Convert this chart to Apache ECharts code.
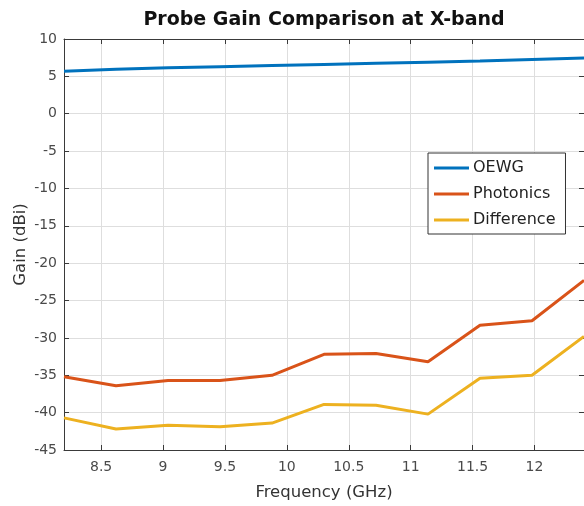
<!DOCTYPE html>
<html>
<head>
<meta charset="utf-8">
<script src="https://cdn.jsdelivr.net/npm/echarts@6/dist/echarts.min.js"></script>
<style>
  html, body { margin: 0; padding: 0; background: #fff; }
  #chart { width: 584px; height: 506px; }
</style>
</head>
<body>
<div id="chart"></div>
<script>
// frequency points (GHz)
const freq = [8.2, 8.62, 9.04, 9.46, 9.88, 10.3, 10.72, 11.14, 11.56, 11.98, 12.4];
// gains (dBi)
const oewg = [5.7, 5.95, 6.15, 6.3, 6.45, 6.6, 6.75, 6.9, 7.05, 7.25, 7.45];
const photonics = [-35.2, -36.4, -35.7, -35.7, -35.0, -32.2, -32.1, -33.2, -28.3, -27.7, -22.3];
const difference = [-40.7, -42.2, -41.7, -41.9, -41.4, -38.9, -39.0, -40.2, -35.4, -35.0, -29.8];

const seriesNames = ["OEWG", "Photonics", "Difference"];
const seriesValues = [oewg, photonics, difference];
const colors = ["#0072BD", "#D95319", "#EDB120"];

const FONT = "DejaVu Sans";
const axisColor = "#3a3a3a";
const labelColor = "#4a4a4a";
const gridColor = "#dedede";

const chart = echarts.init(document.getElementById("chart"), null, { renderer: "canvas" });

const pairs = (ys) => freq.map((f, i) => [f, ys[i]]);

chart.setOption({
  animation: false,
  backgroundColor: "#fff",
  textStyle: { fontFamily: FONT },
  grid: { left: 64, right: 0, top: 39, bottom: 56, outerBoundsMode: "none", containLabel: false },
  legend: {
    orient: "vertical",
    left: 428,
    top: 153,
    data: seriesNames,
    icon: "rect",
    itemWidth: 35,
    itemHeight: 3,
    itemGap: 10,
    padding: [7, 10, 6, 6],
    backgroundColor: "#fff",
    borderColor: "#333",
    borderWidth: 1,
    borderRadius: 0,
    textStyle: { fontFamily: FONT, fontSize: 16, color: "#222", padding: [0, 0, 0, -1] },
  },
  xAxis: [
    {
      type: "value",
      min: 8.2,
      max: 12.4,
      splitNumber: 8,
      name: "Frequency (GHz)",
      nameLocation: "middle",
      nameGap: 34,
      nameTextStyle: { fontFamily: FONT, fontSize: 16.5, color: "#333" },
      axisLine: { show: true, onZero: false, lineStyle: { color: axisColor, width: 1 } },
      axisTick: { show: true, inside: true, length: 5, lineStyle: { color: axisColor } },
      axisLabel: {
        showMinLabel: false,
        showMaxLabel: false,
        margin: 10,
        fontFamily: FONT,
        fontSize: 14,
        color: labelColor,
      },
      splitLine: { show: true, lineStyle: { color: gridColor, width: 1 } },
    },
    {
      type: "value",
      position: "top",
      min: 8.2,
      max: 12.4,
      splitNumber: 8,
      name: "Probe Gain Comparison at X-band",
      nameLocation: "middle",
      nameGap: 9,
      nameTextStyle: { fontFamily: FONT, fontSize: 19, fontWeight: "bold", color: "#111" },
      axisLine: { show: true, onZero: false, lineStyle: { color: axisColor, width: 1 } },
      axisTick: { show: true, inside: true, length: 5, lineStyle: { color: axisColor } },
      axisLabel: { show: false },
      splitLine: { show: false },
    },
  ],
  yAxis: [
    {
      type: "value",
      min: -45,
      max: 10,
      interval: 5,
      name: "Gain (dBi)",
      nameLocation: "middle",
      nameRotate: 90,
      nameGap: 35,
      nameMoveOverlap: false,
      nameTextStyle: { fontFamily: FONT, fontSize: 16.5, color: "#333" },
      axisLine: { show: true, onZero: false, lineStyle: { color: axisColor, width: 1 } },
      axisTick: { show: true, inside: true, length: 5, lineStyle: { color: axisColor } },
      axisLabel: { margin: 7, fontFamily: FONT, fontSize: 14, color: labelColor },
      splitLine: { show: true, lineStyle: { color: gridColor, width: 1 } },
    },
    {
      type: "value",
      position: "right",
      min: -45,
      max: 10,
      interval: 5,
      axisLine: { show: false, onZero: false },
      axisTick: { show: true, inside: true, length: 5, lineStyle: { color: axisColor } },
      axisLabel: { show: false },
      splitLine: { show: false },
    },
  ],
  series: seriesNames.map((name, i) => ({
    name,
    type: "line",
    data: pairs(seriesValues[i]),
    showSymbol: false,
    symbol: "none",
    color: colors[i],
    lineStyle: { width: 3, color: colors[i] },
    z: 3,
  })),
});
</script>
</body>
</html>
